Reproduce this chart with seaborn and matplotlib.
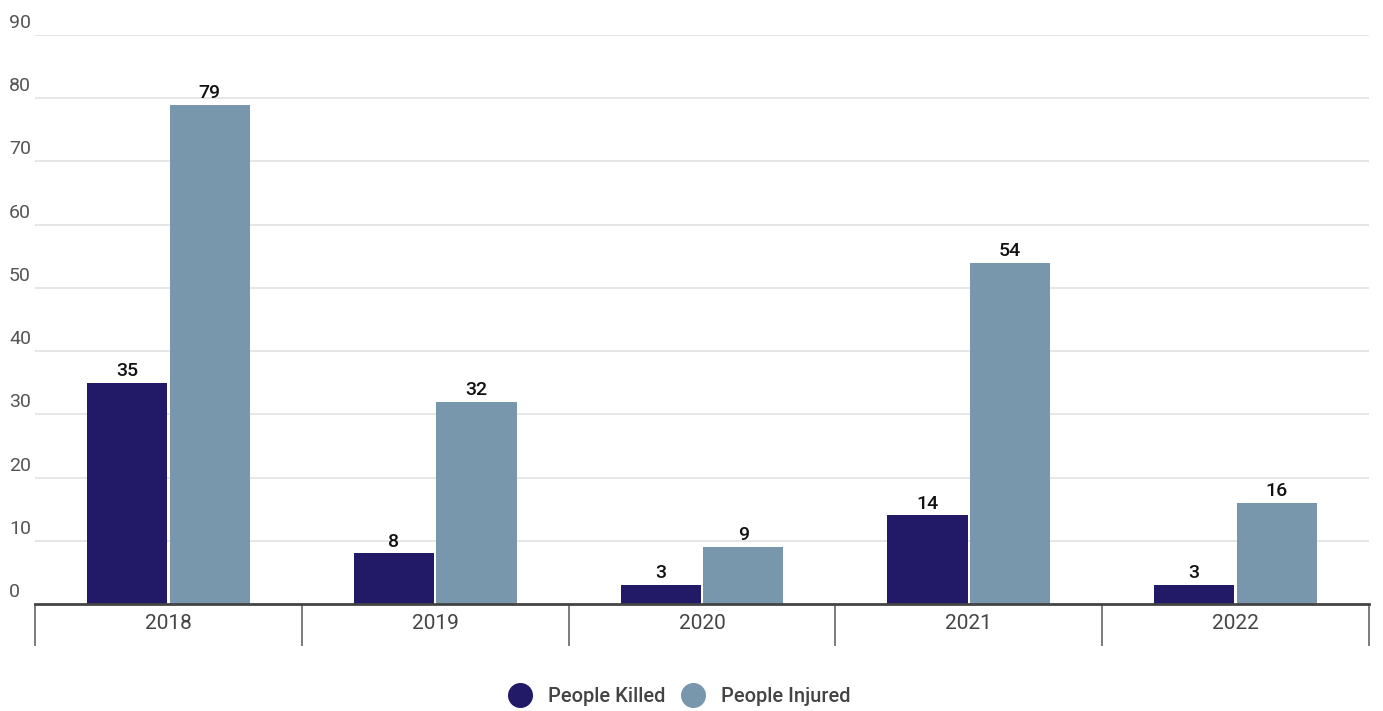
import matplotlib
matplotlib.use("Agg")
import matplotlib.pyplot as plt
import matplotlib.transforms as mtransforms
from matplotlib.lines import Line2D
import seaborn as sns
import pandas as pd
import numpy as np

years = ["2018", "2019", "2020", "2021", "2022"]
killed = [35, 8, 3, 14, 3]
injured = [79, 32, 9, 54, 16]
series_names = ["People Killed", "People Injured"]
colors = ["#221a66", "#7897ac"]
y_ticks = [0, 10, 20, 30, 40, 50, 60, 70, 80, 90]

df = pd.DataFrame({
    "Year": years * 2,
    "Value": killed + injured,
    "Series": [series_names[0]] * len(years) + [series_names[1]] * len(years),
})

sns.set_theme(style="white")
plt.rcParams["font.family"] = ["Roboto", "DejaVu Sans"]

fig = plt.figure(figsize=(13.83, 7.11), dpi=100)
ax = fig.add_axes([35 / 1383, 1 - 604 / 711, (1369 - 35) / 1383, (604 - 35) / 711])

sns.barplot(data=df, x="Year", y="Value", hue="Series", palette=colors,
            width=0.62, gap=0.03, saturation=1, ax=ax, legend=False, linewidth=0)

ax.set_ylim(0, 90)
ax.set_xlim(-0.5, len(years) - 0.5)
ax.set_xlabel("")
ax.set_ylabel("")

# gridlines
for v in y_ticks[1:]:
    ax.axhline(v, color="#e2e2e2", linewidth=1.2, zorder=0)
ax.set_yticks([])

# y labels above gridlines
trans = mtransforms.blended_transform_factory(fig.transFigure, ax.transData)
shift = mtransforms.ScaledTranslation(0, 3 / 100, fig.dpi_scale_trans)
for v in y_ticks:
    ax.text(9 / 1383, v, str(v), transform=trans + shift, ha="left", va="bottom",
            fontsize=14, color="#555555", clip_on=False)

for s in ["top", "right", "left"]:
    ax.spines[s].set_visible(False)
ax.spines["bottom"].set_color("#444444")
ax.spines["bottom"].set_linewidth(2)

# category ticks
ax.set_xticks(range(len(years)))
ax.set_xticklabels(years, fontsize=15, color="#444444")
ax.tick_params(axis="x", which="major", length=0, pad=7, bottom=False)
ax.set_xticks(np.arange(-0.5, len(years), 1.0), minor=True)
ax.tick_params(axis="x", which="minor", bottom=True, length=30, width=1.2,
               color="#666666", direction="out")

# value labels
for cont in ax.containers:
    ax.bar_label(cont, fontsize=14, color="#111111", padding=2, fontweight="medium")

handles = [Line2D([0], [0], marker="o", linestyle="", markersize=17,
                  markerfacecolor=c, markeredgecolor=c) for c in colors]
fig.legend(handles, series_names, loc="center", bbox_to_anchor=(675 / 1383, 1 - 697 / 711),
           ncol=2, frameon=False, handletextpad=0.4, columnspacing=0.35,
           labelcolor="#444444", prop={"weight": "medium", "size": 14.5})

fig.savefig("out.png", dpi=100)
